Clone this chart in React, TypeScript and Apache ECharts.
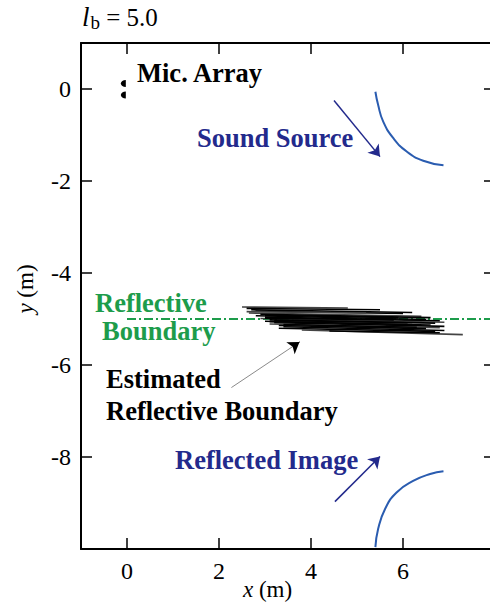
import React, { useEffect, useRef } from "react";
import * as echarts from "echarts";

const xTicks = [0, 2, 4, 6];
const yTicks = [0, -2, -4, -6, -8];
const micArray = [[-0.08, 0.12], [-0.08, -0.13]];
const sourceArc = [[5.40, -0.06], [5.46, -0.35], [5.57, -0.71], [5.79, -1.07], [6.08, -1.36], [6.44, -1.56], [6.88, -1.66]];
const imageArc = [[5.40, -9.96], [5.46, -9.56], [5.61, -9.13], [5.86, -8.77], [6.22, -8.52], [6.59, -8.37], [6.88, -8.31]];
const boundaryLine = [[0, -5], [8, -5]];
// estimated boundary segments: [x1, y1, x2, y2]
const estimatedSegments = [
  [2.50, -4.74, 4.80, -4.76],
  [2.60, -4.77, 5.50, -4.80],
  [2.70, -4.80, 6.20, -4.86],
  [2.80, -4.83, 6.00, -4.88],
  [2.65, -4.87, 6.40, -4.94],
  [2.90, -4.90, 6.60, -4.97],
  [2.80, -4.93, 6.50, -5.01],
  [3.00, -4.96, 6.80, -5.04],
  [2.90, -4.99, 6.90, -5.07],
  [3.10, -5.02, 6.70, -5.09],
  [3.00, -5.05, 6.60, -5.13],
  [3.20, -5.08, 6.90, -5.16],
  [3.10, -5.11, 6.80, -5.19],
  [3.30, -5.14, 6.50, -5.21],
  [3.40, -5.17, 6.90, -5.25],
  [3.30, -5.20, 6.70, -5.27],
  [3.80, -5.24, 7.30, -5.34],
  [4.40, -5.26, 6.80, -5.30],
  [3.00, -4.98, 5.80, -5.02],
  [3.20, -5.03, 6.10, -5.08],
  [2.60, -4.84, 5.20, -4.87],
  [3.00, -4.92, 5.90, -4.97],
  [3.10, -5.06, 6.20, -5.12],
  [3.40, -5.12, 6.30, -5.18],
];
const sourceArrow = [[4.50, -0.25], [5.50, -1.47]];
const imageArrow = [[4.52, -8.97], [5.50, -7.99]];
const estimateArrow = [[2.27, -6.49], [3.75, -5.50]];
const estimateArrowHead = [[3.62, -5.59], [3.75, -5.50]];

const SERIF = "'Liberation Serif', 'Times New Roman', serif";
const NAVY = "#232a8c";
const ARC = "#2a5cb0";
const GREEN = "#1d9c4b";

export default function App() {
  const ref = useRef<HTMLDivElement>(null);
  useEffect(() => {
    if (!ref.current) return;
    const chart = echarts.init(ref.current, null, { renderer: "svg" });
    const axisLine = { show: true, onZero: false, lineStyle: { color: "#000", width: 2 } };
    const tick = (vals: number[]) => ({
      show: true, inside: true, length: 11, customValues: vals,
      lineStyle: { color: "#000", width: 1.5 },
    });
    const label = (vals: number[]) => ({
      show: true, customValues: vals, fontSize: 24, fontFamily: SERIF, color: "#000", margin: 10,
    });
    const txt = (text: string, x: number, y: number, fill: string, size = 26.5, weight = "bold") => ({
      type: "text", x, y, z: 100,
      style: { text, fill, font: `${weight} ${size}px ${SERIF}`, verticalAlign: "middle", align: "left" },
    });
    const option: any = {
      animation: false,
      backgroundColor: "#fff",
      grid: { left: 81, top: 43, right: 5, bottom: 55, containLabel: false },
      xAxis: [
        { type: "value", position: "bottom", min: -1, max: 8, axisLine, axisTick: tick(xTicks), axisLabel: label(xTicks), splitLine: { show: false } },
        { type: "value", position: "top", min: -1, max: 8, axisLine, axisTick: tick(xTicks), axisLabel: { show: false }, splitLine: { show: false } },
      ],
      yAxis: [
        { type: "value", position: "left", min: -10, max: 1, axisLine, axisTick: tick(yTicks), axisLabel: label(yTicks), splitLine: { show: false } },
        { type: "value", position: "right", min: -10, max: 1, axisLine, axisTick: tick(yTicks), axisLabel: { show: false }, splitLine: { show: false } },
      ],
      series: [
        {
          type: "line", data: boundaryLine, showSymbol: false, z: 1,
          lineStyle: { color: GREEN, width: 2, type: [9, 3, 2, 3] },
        },
        {
          type: "lines", coordinateSystem: "cartesian2d", z: 2,
          data: estimatedSegments.map((s, i) => ({
            coords: [[s[0], s[1]], [s[2], s[3]]],
            lineStyle: { color: i % 4 === 0 ? "#444" : "#000", width: 1.6, opacity: 1 },
          })),
        },
        {
          type: "line", data: sourceArc, showSymbol: false, smooth: true, z: 3,
          lineStyle: { color: ARC, width: 2 },
        },
        {
          type: "line", data: imageArc, showSymbol: false, smooth: true, z: 3,
          lineStyle: { color: ARC, width: 2 },
        },
        {
          type: "lines", coordinateSystem: "cartesian2d", z: 4,
          symbol: ["none", "arrow"], symbolSize: 11,
          data: [{ coords: sourceArrow }, { coords: imageArrow }],
          lineStyle: { color: NAVY, width: 1.5, opacity: 1 },
        },
        {
          type: "lines", coordinateSystem: "cartesian2d", z: 4,
          data: [{ coords: estimateArrow }],
          lineStyle: { color: "#8a8a8a", width: 1, opacity: 1 },
        },
        {
          type: "lines", coordinateSystem: "cartesian2d", z: 5,
          symbol: ["none", "arrow"], symbolSize: 11,
          data: [{ coords: estimateArrowHead }],
          lineStyle: { color: "#000", width: 1, opacity: 1 },
        },
        {
          type: "scatter", data: micArray, z: 6,
          symbol: "path://M10,0 A10,10 0 0 0 10,20 Z", symbolSize: [5, 7],
          itemStyle: { color: "#000", opacity: 1 },
        },
      ],
      graphic: [
        {
          type: "text", x: 82, y: 17, z: 100,
          style: {
            text: "{l|l}{b|b}{r| = 5.0}",
            font: `24px ${SERIF}`, fill: "#000", verticalAlign: "middle",
            rich: {
              l: { font: `italic 27px ${SERIF}`, fill: "#000" },
              b: { font: `19px ${SERIF}`, fill: "#000", padding: [10, 0, 0, 1] },
              r: { font: `25px ${SERIF}`, fill: "#000" },
            },
          },
        },
        txt("Mic. Array", 137, 73, "#000"),
        txt("Sound Source", 197, 138, NAVY),
        txt("Reflective", 95, 303, GREEN),
        txt("Boundary", 102, 331, GREEN),
        txt("Estimated", 106, 379, "#000"),
        txt("Reflective Boundary", 106, 411, "#000"),
        txt("Reflected Image", 175, 460, NAVY),
        {
          type: "text", x: 243, y: 589, z: 100,
          style: {
            text: "{i|x} (m)", font: `23px ${SERIF}`, fill: "#000", verticalAlign: "middle",
            rich: { i: { font: `italic 23px ${SERIF}`, fill: "#000" } },
          },
        },
        {
          type: "text", x: 25, y: 289, rotation: Math.PI / 2, z: 100,
          style: {
            text: "{i|y} (m)", font: `23px ${SERIF}`, fill: "#000", verticalAlign: "middle", align: "center",
            rich: { i: { font: `italic 23px ${SERIF}`, fill: "#000" } },
          },
        },
      ],
    };
    chart.setOption(option);
    return () => chart.dispose();
  }, []);
  return (
    <div style={{ position: "fixed", left: 0, top: 0, width: 490, height: 604, overflow: "hidden", background: "#fff" }}>
      <div ref={ref} style={{ width: 500, height: 604 }} />
    </div>
  );
}
